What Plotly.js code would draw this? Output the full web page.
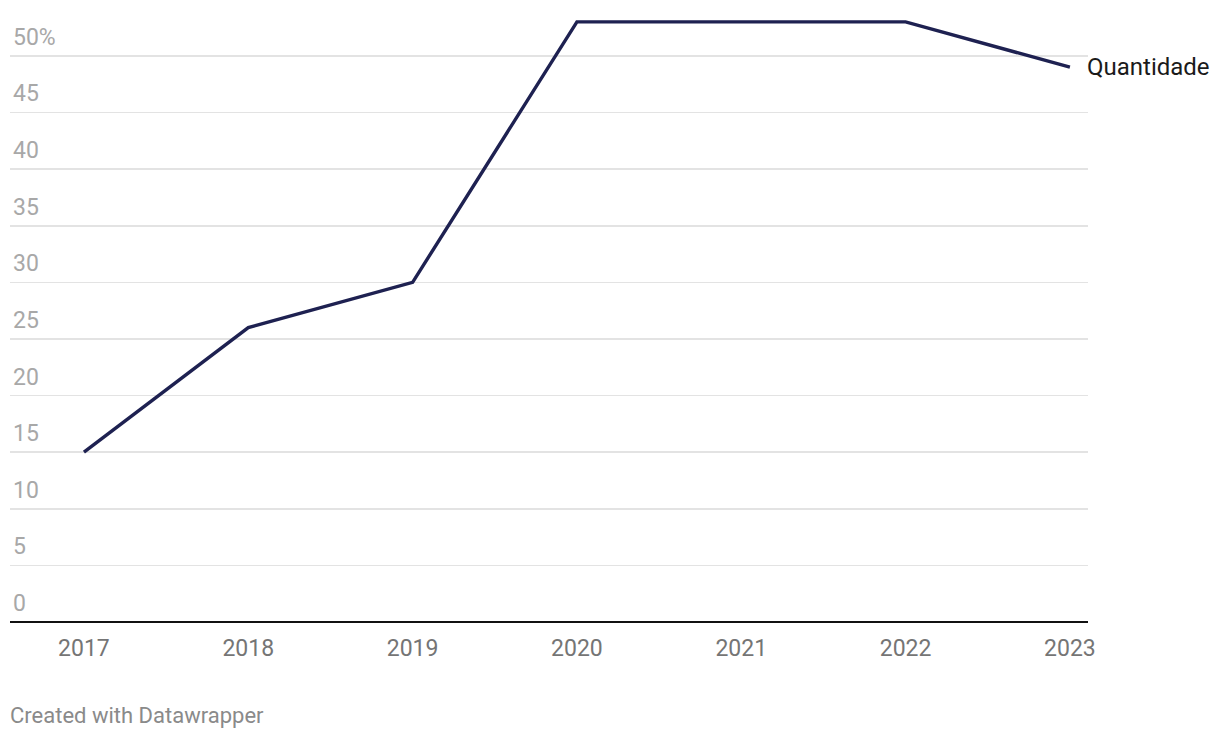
<!DOCTYPE html>
<html><head><meta charset="utf-8">
<script src="https://cdn.plot.ly/plotly-3.0.1.min.js"></script>
<style>html,body{margin:0;padding:0;background:#fff}#chart{width:1220px;height:738px}</style>
</head><body><div id="chart"></div>
<script>
const years = [2017, 2018, 2019, 2020, 2021, 2022, 2023];
const quantidade = [15, 26, 30, 53, 53, 53, 49];
const seriesName = "Quantidade";
const yTickVals = [0, 5, 10, 15, 20, 25, 30, 35, 40, 45, 50];
const yTickText = ["0", "5", "10", "15", "20", "25", "30", "35", "40", "45", "50%"];
const credit = "Created with Datawrapper";

const trace = {
  x: years, y: quantidade, type: "scatter", mode: "lines",
  line: {color: "#1e2151", width: 3.4},
  hoverinfo: "skip", showlegend: false
};
const layout = {
  width: 1220, height: 738,
  margin: {l: 10, r: 132, t: 10, b: 116},
  paper_bgcolor: "#fff", plot_bgcolor: "#fff",
  font: {family: "Roboto, sans-serif"},
  xaxis: {
    range: [2016.55, 2023.11], tickvals: years, ticktext: years.map(String),
    showgrid: false, zeroline: false, showline: false, ticks: "",
    tickfont: {size: 23, color: "#757575"}, ticklabelstandoff: 10
  },
  yaxis: {
    range: [0, 54.05], tickvals: yTickVals, ticktext: yTickText,
    showgrid: true, gridcolor: "#e3e3e3", gridwidth: 1.6,
    zeroline: true, zerolinecolor: "#111", zerolinewidth: 2,
    ticks: "", ticklabelposition: "inside top", ticklabelshift: -3,
    tickfont: {size: 23, color: "#a8a8a8"}
  },
  annotations: [
    {x: years[years.length-1], y: quantidade[quantidade.length-1], xref: "x", yref: "y",
     text: seriesName, showarrow: false, xanchor: "left", yanchor: "middle", xshift: 15,
     font: {size: 24, color: "#1a1a1a"}},
    {x: 0, y: -0.152, xref: "paper", yref: "paper", xanchor: "left", yanchor: "middle",
     text: credit, showarrow: false, xshift: -2, font: {size: 22, color: "#8a8a8a"}}
  ]
};
Plotly.newPlot("chart", [trace], layout, {displayModeBar: false, staticPlot: true});
</script></body></html>
